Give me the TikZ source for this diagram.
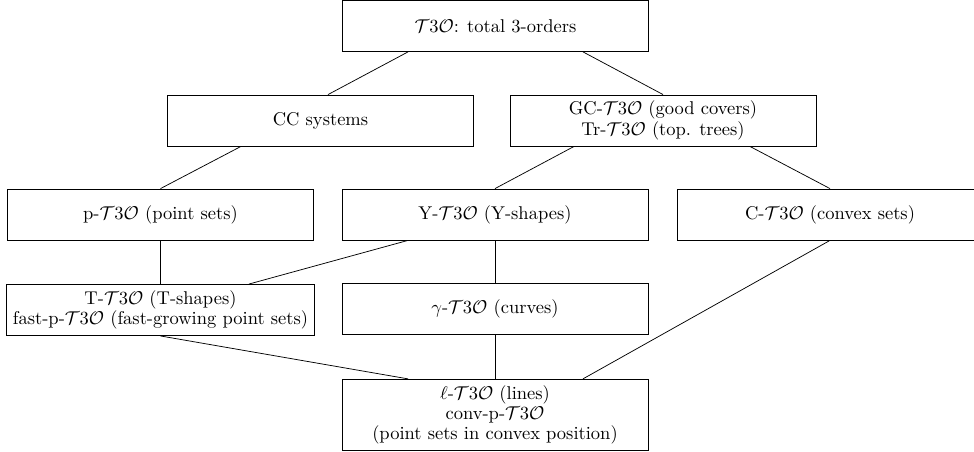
\documentclass[tikz,border=0pt]{standalone}
\usetikzlibrary{calc}
\newcommand{\tto}{$\mathcal{T}3\mathcal{O}$}
\begin{document}
\begin{tikzpicture}[x=0.5405pt,y=-0.5405pt,
  box/.style={draw, line width=0.4pt, minimum width=165.4pt, minimum height=27.6pt, align=center, inner sep=3.33pt, font=\fontsize{10}{11}\selectfont},
  link/.style={line width=0.4pt}]
\useasboundingbox (0,0) rectangle (974,452);
\node[box] (top) at (495.5,26) {\tto: total 3-orders};
\node[box] (CC) at (320.5,120.5) {CC systems};
\node[box] (GC) at (663,120.5) {GC-\tto{} (good covers)\\Tr-\tto{} (top. trees)};
\node[box] (p) at (160.5,214.5) {p-\tto{} (point sets)};
\node[box] (Y) at (495,214.5) {Y-\tto{} (Y-shapes)};
\node[box] (C) at (830,214.5) {C-\tto{} (convex sets)};
\node[box] (T) at (160.5,310) {T-\tto{} (T-shapes)\\fast-p-\tto{} (fast-growing point sets)};
\node[box] (G) at (495,309) {$\gamma$-\tto{} (curves)};
\node[box] (L) at (495,415) {$\ell$-\tto{} (lines)\\conv-p-\tto\\(point sets in convex position)};
\draw[link] ($(top.south)+(-87.5,0)$) -- ($(CC.north)+(7.5,0)$);
\draw[link] ($(top.south)+(87.5,0)$) -- (GC.north);
\draw[link] ($(CC.south)+(-79.5,0)$) -- (p.north);
\draw[link] ($(GC.south)+(-89,0)$) -- (Y.north);
\draw[link] ($(GC.south)+(87,0)$) -- (C.north);
\draw[link] (p.south) -- (T.north);
\draw[link] ($(Y.south)+(-87,0)$) -- ($(T.north)+(88.5,0)$);
\draw[link] (Y.south) -- (G.north);
\draw[link] (T.south) -- ($(L.north)+(-87,0)$);
\draw[link] (G.south) -- (L.north);
\draw[link] (C.south) -- ($(L.north)+(88,0)$);
\end{tikzpicture}
\end{document}
